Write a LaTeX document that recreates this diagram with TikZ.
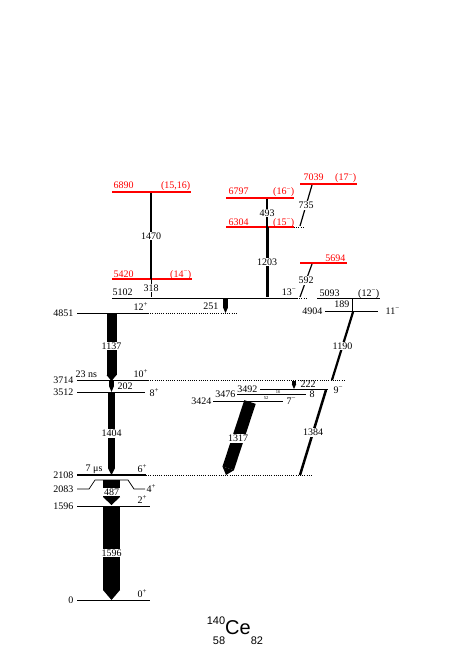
\documentclass[tikz,border=0pt]{standalone}
\usepackage{fontspec}
\setmainfont{Liberation Serif}
\newfontfamily\sansnucl{Liberation Sans}
\usetikzlibrary{arrows.meta,positioning}
\definecolor{nivrouge}{HTML}{FF0000}
\newcommand{\nucl}[4]{{\fontsize{11}{11}\selectfont
  \makebox[0pt][r]{\raisebox{10pt}{#1}}\makebox[0pt][r]{\raisebox{-10pt}{#2}}}%
  {\fontsize{20}{20}\selectfont #3}{\fontsize{11}{11}\selectfont\raisebox{-10pt}{#4}}}

\begin{document}
\begin{tikzpicture}[
    x=1pt,y=-1pt,
    niv/.style     = {black, line width=1pt},
    nivi/.style    = {black, line width=1.8pt},
    nivf/.style    = {black, line width=0.7pt},
    nivr/.style    = {nivrouge, line width=1.8pt},
    prol/.style    = {black, line width=0.8pt, dash pattern=on 1pt off 1.2pt},
    en/.style      = {font=\fontsize{10}{12}\selectfont, inner sep=0.5pt},
    enr/.style     = {en, text=nivrouge},
    mini/.style    = {font=\fontsize{4.5}{5}\selectfont, inner sep=0pt},
    et/.style      = {font=\fontsize{10}{12}\selectfont, fill=white, inner sep=0.8pt},
    gam/.style 2 args = {black, line width=#1,
                      -{Triangle[length=#2,width=#1,line width=0pt]}},
    fil/.style     = {black, line width=#1},
  ]
  \useasboundingbox (0,0) rectangle (463,668);

  % ── Niveaux de la cascade principale ───────────────────────────────────
  \draw[niv]  (77,600) -- (150,600);
  \draw[niv]  (77,506) -- (150,506);
  \draw[nivf] (77,489) -- (89,489) -- (95,480) -- (128,480) -- (134,489) -- (145,489);
  \draw[nivi] (77,475) -- (146,475);
  \draw[prol] (146,475) -- (313,475);
  \draw[niv]  (77,392) -- (145,392);
  \draw[niv]  (77,380) -- (148,380);
  \draw[prol] (148,380) -- (345,380);
  \draw[niv]  (77,313) -- (148,313);
  \draw[prol] (148,313) -- (237,313);
  \draw[niv]  (112,298) -- (297,298);
  \draw[prol] (297,298) -- (306,298);

  \node[en,anchor=east] (e0)    at (74,600) {0};
  \node[en,anchor=east] (e1596) at (74,506) {1596};
  \node[en,anchor=east] (e2083) at (74,489) {2083};
  \node[en,anchor=east] (e2108) at (74,475) {2108};
  \node[en,anchor=east] (e3512) at (74,392) {3512};
  \node[en,anchor=east] (e3714) at (74,380) {3714};
  \node[en,anchor=east] (e4851) at (74,313) {4851};
  \node[en,anchor=base west] (e5102) at (112,295) {5102};

  \node[en,anchor=base west] (s0)  at (137,597) {0\textsuperscript{+}};
  \node[en,anchor=base west] (s2)  at (137,503) {2\textsuperscript{+}};
  \node[en,anchor=base west] (s4)  at (146,492) {4\textsuperscript{+}};
  \node[en,anchor=base west] (s6)  at (137,472) {6\textsuperscript{+}};
  \node[en,anchor=base west] (s8)  at (149,396) {8\textsuperscript{+}};
  \node[en,anchor=base west] (s10) at (133,377) {10\textsuperscript{+}};
  \node[en,anchor=base west] (s12) at (133,310) {12\textsuperscript{+}};
  \node[en,anchor=base east] (s13) at (297,295) {13\textsuperscript{−}};
  \node[en,anchor=base west] (t6)  at (85,471) {7 μs};
  \node[en,anchor=base west] (t10) at (75,377) {23 ns};

  % ── Niveaux en rouge ────────────────────────────────────────────────────
  \draw[nivr] (112,192) -- (191,192);
  \draw[nivr] (112,279) -- (192,279);
  \draw[nivr] (226,198) -- (294,198);
  \draw[nivr] (226,227) -- (294,227);
  \draw[prol] (294,227) -- (305,227);
  \draw[nivr] (300,184) -- (357,184);
  \draw[nivr] (300,263) -- (347,263);

  \node[enr,anchor=base west] (e6890) at (113,189) {6890};
  \node[enr,anchor=base east] (s6890) at (191,189) {(15,16)};
  \node[enr,anchor=base west] (e5420) at (113,277) {5420};
  \node[enr,anchor=base east] (s5420) at (192,277) {(14\textsuperscript{−})};
  \node[enr,anchor=base west] (e6797) at (228,195) {6797};
  \node[enr,anchor=base east] (s6797) at (295,195) {(16\textsuperscript{−})};
  \node[enr,anchor=base west] (e6304) at (228,225) {6304};
  \node[enr,anchor=base east] (s6304) at (295,225) {(15\textsuperscript{−})};
  \node[enr,anchor=base west] (e7039) at (303,181) {7039};
  \node[enr,anchor=base east] (s7039) at (357,181) {(17\textsuperscript{−})};
  \node[enr,anchor=base east] (e5694) at (346,261) {5694};

  % ── Niveaux de droite ───────────────────────────────────────────────────
  \draw[niv]  (317,298) -- (380,298);
  \draw[niv]  (325,311) -- (378,311);
  \draw[nivf] (260,389) -- (328,389);
  \draw[nivf] (237,394) -- (306,394);
  \draw[nivf] (213,401) -- (283,401);

  \node[en,anchor=base west] (e5093) at (319,296) {5093};
  \node[en,anchor=base east] (s5093) at (380,296) {(12\textsuperscript{−})};
  \node[en,anchor=east]      (e4904) at (323,311) {4904};
  \node[en,anchor=base west] (s4904) at (385,314) {11\textsuperscript{−}};
  \node[en,anchor=base east] (e3492) at (258,392) {3492};
  \node[en,anchor=base east] (e3476) at (236,397) {3476};
  \node[en,anchor=base east] (e3424) at (212,404) {3424};
  \node[en,anchor=base west] (s3492) at (333,393) {9\textsuperscript{−}};
  \node[en,anchor=base west] (s3476) at (309,397) {8};
  \node[en,anchor=base west] (s3424) at (286,404) {7\textsuperscript{−}};
  \node[mini] (d16) at (278,392) {16};
  \node[mini] (d52) at (266,398) {52};

  % ── Points de départ et d'arrivée des transitions ───────────────────────
  \coordinate (a0)    at (111.5,600);
  \coordinate (a1596) at (111.5,506);
  \coordinate (a1595) at (111.5,505);
  \coordinate (a2083) at (111.5,480);
  \coordinate (a2108) at (111.5,475);
  \coordinate (a3512) at (111.5,392);
  \coordinate (a3713) at (111.5,381);
  \coordinate (a3714) at (111.5,380);
  \coordinate (a4851) at (111.5,314);
  \coordinate (b4851) at (225.5,313);
  \coordinate (b5102) at (225.5,299);
  \coordinate (c5102) at (151,297);
  \coordinate (c5420) at (151,279);
  \coordinate (c6890) at (151,193);
  \coordinate (d5102) at (267,297);
  \coordinate (d6304) at (267,227);
  \coordinate (d6797) at (267,199);
  \coordinate (f6304) at (300,226);
  \coordinate (f7039) at (312,185);
  \coordinate (f5102) at (300,297);
  \coordinate (f5694) at (312,264);
  \coordinate (h4904) at (352,311);
  \coordinate (h5093) at (352,299);
  \coordinate (k4904) at (353,312);
  \coordinate (k3714) at (332,380);
  \coordinate (m3714) at (294,381);
  \coordinate (m3492) at (294,389);
  \coordinate (n3492) at (326,390);
  \coordinate (n2108) at (300,475);
  \coordinate (p3424) at (250,402);
  \coordinate (p2108) at (226,475);

  % ── Transitions gamma ───────────────────────────────────────────────────
  \draw[gam={17pt}{10pt}] (a1596) -- node[et] {1596} (a0);
  \draw[gam={17pt}{8pt}]  (a2083) -- node[et,pos=0.48] {487} (a1595);
  \draw[gam={7pt}{7pt}]   (a3512) -- node[et] {1404} (a2108);
  \draw[gam={5pt}{6pt}]   (a3714) -- (a3512);
  \node[en,anchor=base west] (g202) at (117,389) {202};
  \draw[gam={10pt}{6pt}]  (a4851) -- node[et,pos=0.48] {1137} (a3713);
  \draw[gam={4.5pt}{5pt}] (b5102) -- (b4851);
  \node[en,anchor=base east] (g251) at (219,309) {251};
  \draw[fil=0.8pt] (c5420) -- node[et] {318} (c5102);
  \draw[fil=1.2pt] (c6890) -- node[et] {1470} (c5420);
  \draw[fil=2pt]   (d6797) -- node[et] {493} (d6304);
  \draw[fil=3pt]   (d6304) -- node[et] {1203} (d5102);
  \draw[fil=1.2pt] (f7039) -- node[et] {735} (f6304);
  \draw[fil=1.2pt] (f5694) -- node[et] {592} (f5102);
  \draw[fil=0.7pt] (h5093) -- (h4904);
  \node[en,anchor=base east] (g189) at (350,307) {189};
  \draw[fil=2.2pt] (k4904) -- node[et] {1190} (k3714);
  \draw[gam={4.5pt}{5pt}] (m3714) -- (m3492);
  \node[en,anchor=base west] (g222) at (300,387) {222};
  \draw[fil=2.5pt] (n3492) -- node[et] {1384} (n2108);
  \draw[gam={12pt}{7pt}]  (p3424) -- node[et] {1317} (p2108);

  % ── Noyau ───────────────────────────────────────────────────────────────
  \node[font=\sansnucl,anchor=base west,inner sep=0pt] (noyau) at (225,634)
       {\nucl{140}{58}{Ce}{82}};

\end{tikzpicture}
\end{document}
